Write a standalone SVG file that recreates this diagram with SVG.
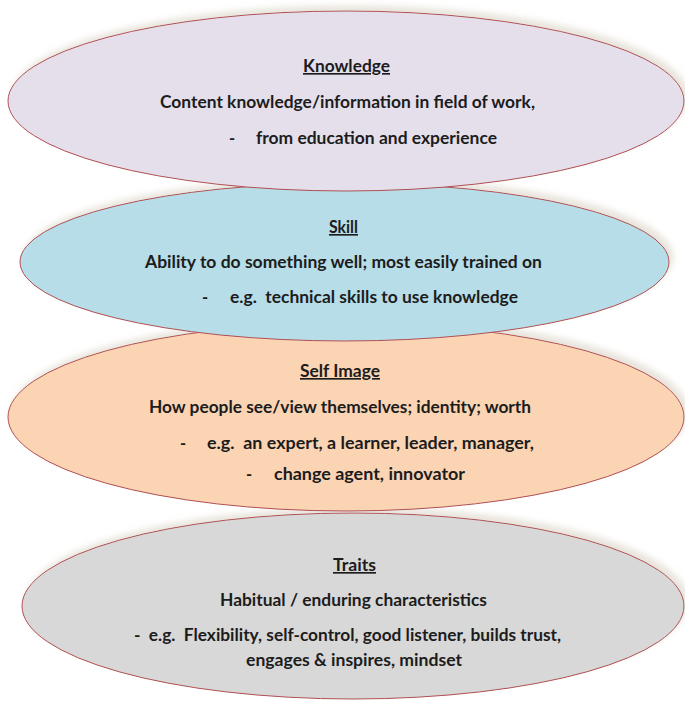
<svg xmlns="http://www.w3.org/2000/svg" width="685" height="701" viewBox="0 0 685 701">
<defs>
<filter id="sh" x="-10%" y="-20%" width="120%" height="140%">
<feDropShadow dx="4" dy="-5" stdDeviation="3" flood-color="#d9d2c4" flood-opacity="0.6"/>
</filter>
<style>
.e{stroke:#b04e52;stroke-width:1;filter:url(#sh)}
.t{font-family:Lato,"Open Sans","Liberation Sans",sans-serif;font-weight:bold;font-size:16.5px;fill:#1c1c1c;white-space:pre}
.h{text-decoration:underline}
</style>
</defs>
<rect width="685" height="701" fill="#ffffff"/>
<g id="traits">
<ellipse class="e" cx="353" cy="606" rx="331" ry="93" fill="#d8d8d8"/>
<text class="t h" x="333" y="571" textLength="43" lengthAdjust="spacingAndGlyphs">Traits</text>
<text class="t" x="220" y="606" textLength="267" lengthAdjust="spacingAndGlyphs">Habitual / enduring characteristics</text>
<text class="t" x="134" y="641" textLength="427" lengthAdjust="spacingAndGlyphs" xml:space="preserve">-  e.g.  Flexibility, self-control, good listener, builds trust,</text>
<text class="t" x="246" y="666" textLength="216" lengthAdjust="spacingAndGlyphs">engages &amp; inspires, mindset</text>
</g>
<g id="self-image">
<ellipse class="e" cx="346" cy="417" rx="338" ry="94" fill="#fbd4b4"/>
<text class="t h" x="300" y="377" textLength="80" lengthAdjust="spacingAndGlyphs">Self Image</text>
<text class="t" x="149" y="413" textLength="382" lengthAdjust="spacingAndGlyphs">How people see/view themselves; identity; worth</text>
<text class="t" x="180" y="449">-</text>
<text class="t" x="207" y="449" textLength="327" lengthAdjust="spacingAndGlyphs" xml:space="preserve">e.g.  an expert, a learner, leader, manager,</text>
<text class="t" x="246" y="480">-</text>
<text class="t" x="274" y="480" textLength="191" lengthAdjust="spacingAndGlyphs">change agent, innovator</text>
</g>
<g id="skill">
<ellipse class="e" cx="344.5" cy="262" rx="324.5" ry="79" fill="#b7dde8"/>
<text class="t h" x="329" y="233" textLength="29" lengthAdjust="spacingAndGlyphs">Skill</text>
<text class="t" x="145" y="268" textLength="397" lengthAdjust="spacingAndGlyphs">Ability to do something well; most easily trained on</text>
<text class="t" x="202" y="303">-</text>
<text class="t" x="230" y="303" textLength="288" lengthAdjust="spacingAndGlyphs" xml:space="preserve">e.g.  technical skills to use knowledge</text>
</g>
<g id="knowledge">
<ellipse class="e" cx="346" cy="101" rx="338" ry="90" fill="#e5dfec"/>
<text class="t h" x="303" y="72" textLength="87" lengthAdjust="spacingAndGlyphs">Knowledge</text>
<text class="t" x="160" y="108" textLength="375" lengthAdjust="spacingAndGlyphs">Content knowledge/information in field of work,</text>
<text class="t" x="229" y="144">-</text>
<text class="t" x="256" y="144" textLength="241" lengthAdjust="spacingAndGlyphs">from education and experience</text>
</g>
<g id="connectors"/>
</svg>
